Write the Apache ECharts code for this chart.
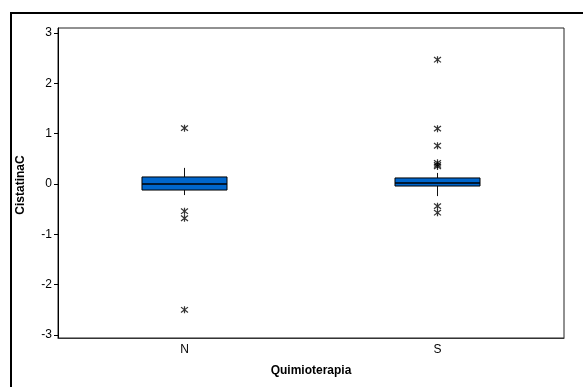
<!DOCTYPE html>
<html>
<head>
<meta charset="utf-8">
<script src="https://cdn.jsdelivr.net/npm/echarts@6/dist/echarts.min.js"></script>
<style>html,body{margin:0;padding:0;background:#fff}#c{width:583px;height:387px}</style>
</head>
<body>
<div id="c"></div>
<script>
var categories = ['N', 'S'];
// [lower whisker, Q1, median, Q3, upper whisker]
var boxN = [-0.22, -0.12, 0.0, 0.14, 0.32];
var boxS = [-0.24, -0.04, 0.02, 0.12, 0.22];
var outliersN = [1.11, -0.54, -0.68, -2.5];
var outliersS = [2.47, 1.1, 0.76, 0.42, 0.38, 0.35, -0.44, -0.57];
var yTicks = [-3, -2, -1, 0, 1, 2, 3];

var boxes = [boxN, boxS];
var boxData = boxes.map(function (b, i) { return [i].concat(b); });
var outData = [];
outliersN.forEach(function (v) { outData.push([0, v]); });
outliersS.forEach(function (v) { outData.push([1, v]); });

var chart = echarts.init(document.getElementById('c'), null, {renderer: 'canvas'});
var font = '"Liberation Sans", Arial, sans-serif';
var asterisk = 'path://M0,0L10,10M10,0L0,10M5,-1.5L5,11.5';

chart.setOption({
  animation: false,
  backgroundColor: '#fff',
  grid: {left: 58, right: 19, top: 28, bottom: 49, show: true, borderColor: '#222', borderWidth: 1},
  xAxis: {
    type: 'category',
    data: categories,
    boundaryGap: true,
    axisLine: {onZero: false, lineStyle: {color: '#333', width: 1}},
    axisTick: {alignWithLabel: true, length: 4, lineStyle: {color: '#333'}},
    axisLabel: {color: '#000', fontFamily: font, fontSize: 12, margin: 6},
    splitLine: {show: false}
  },
  yAxis: {
    type: 'value',
    min: -3.06, max: 3.1,
    axisLine: {show: true, onZero: false, lineStyle: {color: '#000', width: 1}},
    axisTick: {show: true, length: 4, customValues: yTicks, lineStyle: {color: '#000'}},
    axisLabel: {color: '#000', fontFamily: font, fontSize: 12, margin: 6, customValues: yTicks},
    splitLine: {show: false}
  },
  graphic: [
    {type: 'rect', shape: {x: 11, y: 13, width: 700, height: 500}, style: {fill: 'none', stroke: '#000', lineWidth: 2}, silent: true, z: 0},
    {type: 'text', x: 311, y: 371, style: {text: 'Quimioterapia', font: 'bold 12px ' + font, fill: '#000', textAlign: 'center', textVerticalAlign: 'middle'}},
    {type: 'text', x: 21, y: 185, rotation: Math.PI / 2, style: {text: 'CistatinaC', font: 'bold 12px ' + font, fill: '#000', textAlign: 'center', textVerticalAlign: 'middle'}}
  ],
  series: [
    {
      type: 'custom',
      data: boxData,
      encode: {x: 0, y: [1, 2, 3, 4, 5]},
      renderItem: function (params, api) {
        var i = api.value(0);
        var x = api.coord([i, 0])[0];
        var w = api.size([1, 0])[0] * 0.336;
        var yLo = api.coord([i, api.value(1)])[1];
        var yQ1 = api.coord([i, api.value(2)])[1];
        var yMed = api.coord([i, api.value(3)])[1];
        var yQ3 = api.coord([i, api.value(4)])[1];
        var yHi = api.coord([i, api.value(5)])[1];
        var st = {stroke: '#111', lineWidth: 1};
        return {
          type: 'group',
          children: [
            {type: 'line', shape: {x1: x, y1: yHi, x2: x, y2: yQ3}, style: st},
            {type: 'line', shape: {x1: x, y1: yQ1, x2: x, y2: yLo}, style: st},
            {type: 'rect', shape: {x: x - w / 2, y: yQ3, width: w, height: yQ1 - yQ3}, style: {fill: '#0066CC', stroke: '#000', lineWidth: 1}},
            {type: 'line', shape: {x1: x - w / 2, y1: yMed, x2: x + w / 2, y2: yMed}, style: {stroke: '#000', lineWidth: 1.5}}
          ]
        };
      },
      z: 3
    },
    {
      type: 'scatter',
      data: outData,
      symbol: asterisk,
      symbolSize: 7,
      itemStyle: {color: 'none', borderColor: '#000', borderWidth: 1.2},
      z: 4
    }
  ]
});
</script>
</body>
</html>
